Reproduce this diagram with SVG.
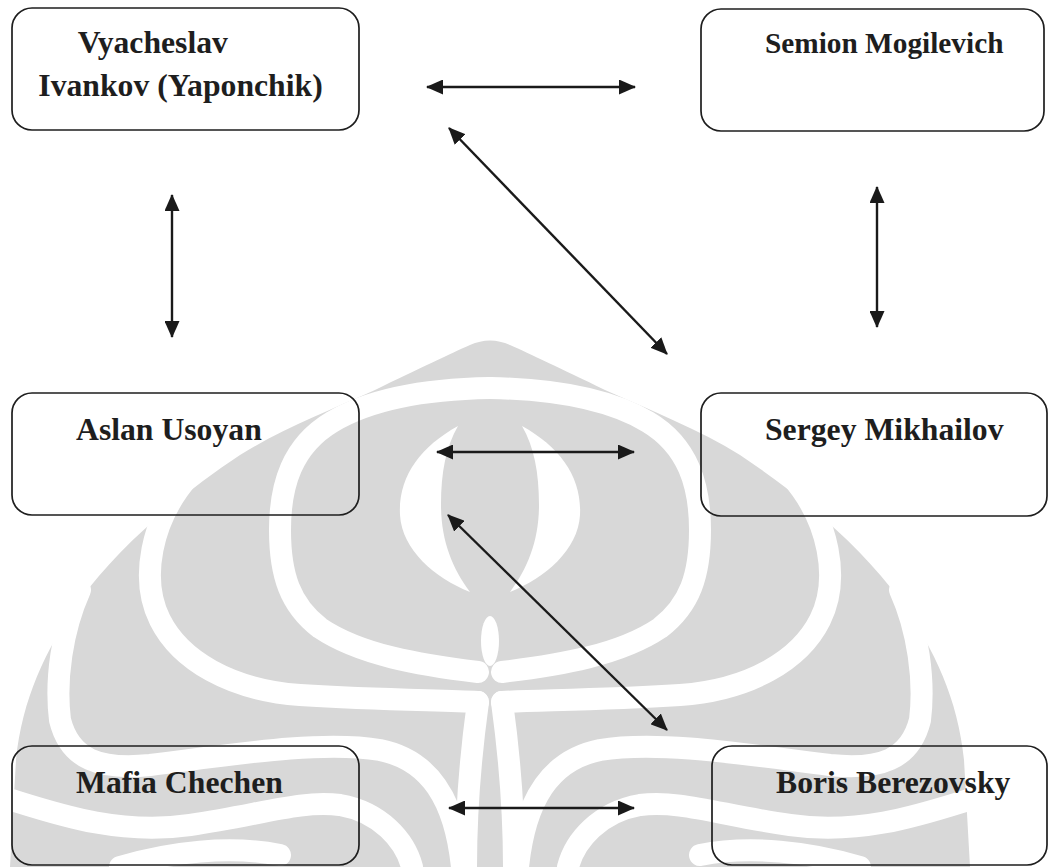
<svg xmlns="http://www.w3.org/2000/svg" xmlns:xlink="http://www.w3.org/1999/xlink" width="1050" height="867" viewBox="0 0 1050 867">
<style>
.box{fill:none;stroke:#1e1e1e;stroke-width:1.7}
.lbl{font-family:"Liberation Serif","Times New Roman",serif;font-weight:bold;font-size:31.7px;fill:#1e1e1e}
.wm{fill:#d8d8d8}
.gap{fill:none;stroke:#fff;stroke-width:22;stroke-linecap:round}
.gapw{fill:#fff}
.conn{stroke:#1a1a1a;stroke-width:2.4;fill:none;marker-start:url(#ah);marker-end:url(#ah)}
</style>
<defs>
<marker id="ah" viewBox="0 0 17 15" refX="16" refY="7.5" markerWidth="17" markerHeight="15" markerUnits="userSpaceOnUse" orient="auto-start-reverse">
<path d="M0,0 L17,7.5 L0,15 Z" fill="#1a1a1a"/>
</marker>
<g id="wmhalf">
<path class="gap" d="M490 388 C430 389 372 398 332 422 C292 446 280 485 280 530 C280 575 290 605 320 628 C360 655 420 665 478 672"/>
<path class="gap" d="M190 475 C150 520 140 580 160 620 C180 660 230 690 300 695 C380 700 440 700 478 702"/>
<path class="gap" d="M80 590 C62 630 55 680 60 720 C70 760 100 770 150 765 C230 755 320 740 380 750 C430 760 455 800 462 867"/>
<path class="gap" d="M478 702 C470 760 466 820 466 867"/>
<path class="gap" d="M12 800 C60 815 120 835 190 825 C260 815 300 800 340 805 C380 812 405 840 412 867"/>
<path class="gap" d="M120 867 C170 852 230 845 280 855"/>
<path class="gapw" d="M458 426 C420 447 398 477 400 515 C402 550 435 578 470 592 C452 568 441 540 441 505 C441 472 446 447 458 426 Z"/>
</g>
</defs>
<rect width="1050" height="867" fill="#fff"/>
<g id="watermark">
<path class="wm" d="M470 345 Q490 336 510 345 C530 354 560 368 605 390 C650 410 700 430 740 455 C800 495 860 545 900 600 C935 650 958 700 964 760 L970 867 L10 867 L16 760 C22 700 45 650 80 600 C120 545 180 495 240 455 C280 430 330 410 375 390 C420 368 450 354 470 345 Z"/>
<use xlink:href="#wmhalf" href="#wmhalf"/>
<use xlink:href="#wmhalf" href="#wmhalf" transform="translate(980,0) scale(-1,1)"/>
<ellipse cx="490" cy="641" rx="9" ry="25" fill="#fff"/>
</g>
<g id="connectors">
<line class="conn" x1="427" y1="87" x2="635" y2="87"/>
<line class="conn" x1="449" y1="128" x2="667" y2="354"/>
<line class="conn" x1="172" y1="195" x2="172" y2="337"/>
<line class="conn" x1="877" y1="187" x2="877" y2="327"/>
<line class="conn" x1="437" y1="452" x2="634" y2="452"/>
<line class="conn" x1="448" y1="515" x2="667" y2="730"/>
<line class="conn" x1="449" y1="808" x2="634" y2="808"/>
</g>
<g id="node-ivankov">
<rect class="box" x="12" y="8" width="347" height="122" rx="20"/>
<text class="lbl" x="77.7" y="53">Vyacheslav</text>
<text class="lbl" x="38.3" y="96">Ivankov (Yaponchik)</text>
</g>
<g id="node-mogilevich">
<rect class="box" x="701" y="9" width="343" height="122" rx="20"/>
<text class="lbl" x="765" y="52.5" style="font-size:29.3px">Semion Mogilevich</text>
</g>
<g id="node-usoyan">
<rect class="box" x="12" y="393" width="347" height="122" rx="20"/>
<text class="lbl" x="76" y="440">Aslan Usoyan</text>
</g>
<g id="node-mikhailov">
<rect class="box" x="701" y="393" width="346" height="123" rx="20"/>
<text class="lbl" x="765" y="440">Sergey Mikhailov</text>
</g>
<g id="node-chechen">
<rect class="box" x="12" y="746" width="347" height="119" rx="20"/>
<text class="lbl" x="76" y="793">Mafia Chechen</text>
</g>
<g id="node-berezovsky">
<rect class="box" x="712" y="746" width="335" height="119" rx="20"/>
<text class="lbl" x="776" y="793">Boris Berezovsky</text>
</g>
</svg>
